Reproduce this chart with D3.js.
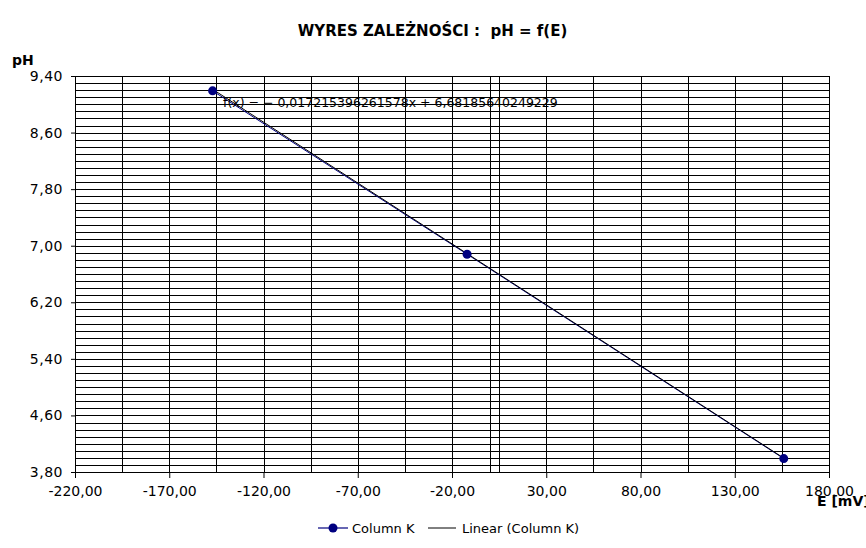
<!DOCTYPE html>
<html>
<head>
<meta charset="utf-8">
<script src="https://cdn.jsdelivr.net/npm/d3@7"></script>
<style>
  html, body { margin: 0; padding: 0; background: #fff; }
  svg { display: block; font-family: "DejaVu Sans", sans-serif; }
  text { white-space: pre; }
</style>
</head>
<body>
<svg id="chart" width="866" height="548"></svg>
<script>
// ---- data ----
const seriesName = "Column K";
const E = [-147, -12, 156];          // mV
const pH = [9.19, 6.88, 3.99];
const trendSlope = -0.017215396261578;
const trendIntercept = 6.68185640249229;
const equationLabel = "f(x) = − 0,017215396261578x + 6,68185640249229";
const xTickValues = [-220, -170, -120, -70, -20, 30, 80, 130, 180];
const yTickValues = [3.8, 4.6, 5.4, 6.2, 7.0, 7.8, 8.6, 9.4];
const xGridStep = 25;
const yGridStep = 0.1;
const titleText = "WYRES ZALEŻNOŚCI :  pH = f(E)";
const yAxisTitle = "pH";
const xAxisTitle = "E [mV]";
const legendLabels = ["Column K", "Linear (Column K)"];

// ---- layout ----
const svg = d3.select("#chart");
const pL = 75, pR = 829, pT = 76, pB = 472;
const x = d3.scaleLinear().domain([-220, 180]).range([pL, pR]);
const y = d3.scaleLinear().domain([3.8, 9.4]).range([pB, pT]);
const fmt = v => d3.format(".2f")(v).replace(".", ",").replace("\u2212", "-");
const px = v => Math.round(v) + 0.5;

// title
svg.append("text").attr("x", 432.5).attr("y", 35.5)
  .attr("text-anchor", "middle").attr("font-size", 15).attr("font-weight", "bold")
  .attr("fill", "#000").text(titleText);

// grid
const g = svg.append("g").attr("shape-rendering", "crispEdges");
const hLines = d3.range(0, Math.round((9.4 - 3.8) / yGridStep) + 1).map(k => 3.8 + k * yGridStep);
g.selectAll("line.h").data(hLines).enter().append("line")
  .attr("x1", pL).attr("x2", pR)
  .attr("y1", d => px(y(d))).attr("y2", d => px(y(d)))
  .attr("stroke", "#000").attr("stroke-width", 1);
const vLines = d3.range(0, 400 / xGridStep + 1).map(k => -220 + k * xGridStep).concat([0]);
g.selectAll("line.v").data(vLines).enter().append("line")
  .attr("y1", pT).attr("y2", pB)
  .attr("x1", d => px(x(d))).attr("x2", d => px(x(d)))
  .attr("stroke", "#000").attr("stroke-width", 1);

// axes
const xAxis = d3.axisBottom(x).tickValues(xTickValues).tickFormat(fmt).tickSize(6).tickPadding(5);
const xg = svg.append("g").attr("transform", `translate(0,${px(pB) - 0.5})`).call(xAxis);
xg.select(".domain").attr("stroke", "#000");
xg.selectAll(".tick line").attr("stroke", "#000");
xg.selectAll(".tick text").attr("font-size", 14).attr("font-family", "DejaVu Sans").attr("fill", "#000").attr("dy", "0.9em");

const yAxis = d3.axisLeft(y).tickValues(yTickValues).tickFormat(fmt).tickSize(4).tickPadding(8);
const yg = svg.append("g").attr("transform", `translate(${px(pL) - 0.5},0)`).call(yAxis);
yg.select(".domain").attr("stroke", "#000");
yg.selectAll(".tick line").attr("stroke", "#000");
yg.selectAll(".tick text").attr("font-size", 14).attr("font-family", "DejaVu Sans").attr("fill", "#000").attr("letter-spacing", "0.5px");

// axis titles
svg.append("text").attr("x", 12).attr("y", 65).attr("font-size", 14).attr("font-weight", "bold").text(yAxisTitle);
svg.append("text").attr("x", 817).attr("y", 506).attr("font-size", 14).attr("font-weight", "bold").text(xAxisTitle);

// series
const pts = E.map((e, i) => [e, pH[i]]);
const line = d3.line().x(d => x(d[0])).y(d => y(d[1]));
svg.append("path").datum(pts).attr("d", line).attr("fill", "none").attr("stroke", "#000080").attr("stroke-width", 1);

// trend line
const xMin = d3.min(E), xMax = d3.max(E);
const trend = [[xMin, trendSlope * xMin + trendIntercept], [xMax, trendSlope * xMax + trendIntercept]];
svg.append("path").datum(trend).attr("d", line).attr("fill", "none").attr("stroke", "#000").attr("stroke-width", 1);

svg.selectAll("circle.pt").data(pts).enter().append("circle")
  .attr("cx", d => x(d[0])).attr("cy", d => y(d[1])).attr("r", 4.5).attr("fill", "#000080");

// equation label
svg.append("text").attr("x", 223).attr("y", 107).attr("font-size", 12.5).attr("fill", "#000").text(equationLabel);

// legend
const lg = svg.append("g");
lg.append("line").attr("x1", 318).attr("x2", 348).attr("y1", 528).attr("y2", 528).attr("stroke", "#000080").attr("stroke-width", 1.2);
lg.append("circle").attr("cx", 333).attr("cy", 528).attr("r", 4.5).attr("fill", "#000080");
lg.append("text").attr("x", 352).attr("y", 532.5).attr("font-size", 13).text(legendLabels[0]);
lg.append("line").attr("x1", 428).attr("x2", 456).attr("y1", 528).attr("y2", 528).attr("stroke", "#000").attr("stroke-width", 1);
lg.append("text").attr("x", 462).attr("y", 532.5).attr("font-size", 13).text(legendLabels[1]);
</script>
</body>
</html>
